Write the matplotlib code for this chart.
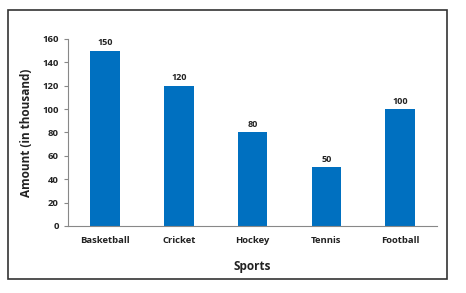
import matplotlib
matplotlib.use("Agg")
import matplotlib.pyplot as plt
from matplotlib.patches import Rectangle

# Data
sports = ["Basketball", "Cricket", "Hockey", "Tennis", "Football"]
amounts = [150, 120, 80, 50, 100]
yticks = [0, 20, 40, 60, 80, 100, 120, 140, 160]

plt.rcParams['font.family'] = ['Open Sans', 'DejaVu Sans']

fig = plt.figure(figsize=(4.66, 2.93), dpi=100)
ax = fig.add_axes([0.146, 0.229, 0.792, 0.638])

bars = ax.bar(range(len(sports)), amounts, width=0.4, color="#0070C0")
for b, v in zip(bars, amounts):
    ax.text(b.get_x() + b.get_width() / 2, v + 3, str(v), ha='center', va='bottom',
            fontsize=6.5, fontweight='bold', color='#222222')

ax.set_xlim(-0.5, len(sports) - 0.5)
ax.set_ylim(0, 160)
ax.set_yticks(yticks)
ax.set_xticks(range(len(sports)))
ax.set_xticklabels(sports, fontsize=6.8, fontweight='bold', color='#222222')
ax.tick_params(axis='y', labelsize=6.8, length=3, color='#888888', labelcolor='#222222')
ax.tick_params(axis='x', length=0, pad=7)
for lbl in ax.get_yticklabels():
    lbl.set_fontweight('bold')

for s in ['top', 'right']:
    ax.spines[s].set_visible(False)
for s in ['left', 'bottom']:
    ax.spines[s].set_color('#888888')
    ax.spines[s].set_linewidth(0.8)

ax.set_xlabel("Sports", fontsize=8.5, fontweight='bold', color='#222222', labelpad=11)
ax.set_ylabel("Amount (in thousand)", fontsize=8.5, fontweight='bold', color='#222222', labelpad=7)

# outer border of the chart area
fig.patches.append(Rectangle((8 / 466, 1 - 279 / 293), 439 / 466, 269 / 293,
                             transform=fig.transFigure, fill=False,
                             edgecolor='#333333', linewidth=1.2))

fig.savefig("out.png", dpi=100)
